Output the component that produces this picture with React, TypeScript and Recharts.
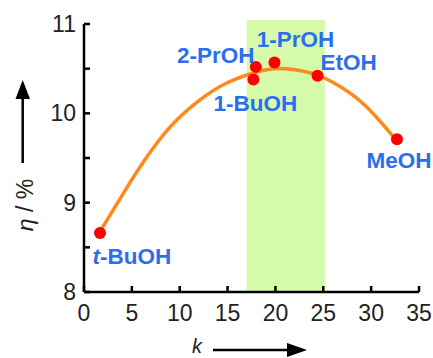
import React from 'react';
import { ComposedChart, Scatter, XAxis, YAxis, ReferenceArea, LabelList } from 'recharts';

// Solvent data points
const solvents = ['t-BuOH', '2-PrOH', '1-BuOH', '1-PrOH', 'EtOH', 'MeOH'];
const kValues = [1.67, 17.95, 17.7, 19.9, 24.4, 32.7];
const etaValues = [8.66, 10.52, 10.38, 10.57, 10.42, 9.71];

// Fitted curve
const curveK = [1.67, 4.11, 5.85, 7.6, 9.69, 12.12, 14.55, 17.34, 19.78, 21.87, 24.31, 26.75, 29.54, 32.32, 32.7];
const curveEta = [8.675, 9.105, 9.4, 9.665, 9.925, 10.15, 10.32, 10.44, 10.5, 10.49, 10.43, 10.3, 10.07, 9.74, 9.71];

// Highlighted band
const bandK = [17.0, 25.15];
const bandEta = [8, 11.045];

// Ticks
const xTicks = [0, 5, 10, 15, 20, 25, 30, 35];
const yTicks = [8, 8.5, 9, 9.5, 10, 10.5, 11];

const points = solvents.map((name, i) => ({ name, k: kValues[i], eta: etaValues[i] }));
const curve = curveK.map((k, i) => ({ k, eta: curveEta[i] }));

// label placement offsets (style, not data)
const labelOffsets: Record<string, [number, number]> = {
  't-BuOH': [32, 31],
  '2-PrOH': [-40, -4],
  '1-BuOH': [2, 32],
  '1-PrOH': [21, -15],
  'EtOH': [31, -6],
  'MeOH': [2, 29],
};

const FONT = '"Liberation Sans", Arial, sans-serif';
const BLUE = '#2b6fec';
const LABEL_SIZE = 22.5;

const PointLabel = (props: any) => {
  const { x, y, width, height, value } = props;
  const cx = x + (width || 0) / 2;
  const cy = y + (height || 0) / 2;
  const off = labelOffsets[value] || [0, 0];
  const tx = cx + off[0];
  const ty = cy + off[1];
  if (value === 't-BuOH') {
    return (
      <text x={tx} y={ty} textAnchor="middle" fontFamily={FONT} fontSize={LABEL_SIZE} fontWeight="bold" fill={BLUE}>
        <tspan fontStyle="italic">t</tspan>
        <tspan>-BuOH</tspan>
      </text>
    );
  }
  return (
    <text x={tx} y={ty} textAnchor="middle" fontFamily={FONT} fontSize={LABEL_SIZE} fontWeight="bold" fill={BLUE}>
      {value}
    </text>
  );
};

const Dot = (props: any) => {
  const { cx, cy } = props;
  return <circle cx={cx} cy={cy} r={6} fill="#ff0000" />;
};

export default function App() {
  return (
    <div style={{ position: 'absolute', left: 0, top: 0, width: 433, height: 358, background: '#fff' }}>
      <ComposedChart
        width={433}
        height={358}
        margin={{ top: 24, right: 14, bottom: 36, left: 44 }}
      >
        <XAxis
          type="number"
          dataKey="k"
          domain={[0, 35]}
          ticks={xTicks}
          interval={0}
          height={30}
          axisLine={{ stroke: '#000', strokeWidth: 2.5 }}
          tickLine={{ stroke: '#000', strokeWidth: 2.5 }}
          tickSize={-6}
          tickMargin={19}
          tick={{ fill: '#222', fontSize: 23, fontFamily: FONT }}
          allowDataOverflow
        />
        <YAxis
          type="number"
          dataKey="eta"
          domain={[8, 11]}
          ticks={yTicks}
          interval={0}
          width={40}
          axisLine={{ stroke: '#000', strokeWidth: 2.5 }}
          tickLine={{ stroke: '#000', strokeWidth: 2.5 }}
          tickSize={-6}
          tickMargin={14}
          tick={{ fill: '#222', fontSize: 23, fontFamily: FONT }}
          tickFormatter={(v: number) => (Number.isInteger(v) ? String(v) : '')}
          allowDataOverflow
        />
        <ReferenceArea
          x1={bandK[0]}
          x2={bandK[1]}
          y1={bandEta[0]}
          y2={bandEta[1]}
          fill="#d5fbaa"
          fillOpacity={1}
          stroke="none"
          ifOverflow="visible"
        />
        <Scatter
          data={curve}
          dataKey="eta"
          line={{ stroke: '#ff8a1c', strokeWidth: 3.5 }}
          lineJointType="natural"
          shape={() => <g />}
          isAnimationActive={false}
        />
        <Scatter data={points} dataKey="eta" shape={Dot} isAnimationActive={false}>
          <LabelList dataKey="name" content={PointLabel} />
        </Scatter>
      </ComposedChart>
      <svg
        width={433}
        height={358}
        style={{ position: 'absolute', left: 0, top: 0, pointerEvents: 'none' }}
      >
        {/* y title arrow */}
        <line x1={22.7} y1={163} x2={22.7} y2={96} stroke="#000" strokeWidth={2.5} />
        <polygon points="22.7,80 15.5,99 30,99" fill="#000" />
        <text
          x={25}
          y={205}
          transform="rotate(-90 25 205)"
          textAnchor="middle"
          dominantBaseline="central"
          fontFamily={FONT}
          fontSize={23}
          fill="#222"
        >
          <tspan fontStyle="italic">η</tspan>
          <tspan> / %</tspan>
        </text>
        {/* x title arrow */}
        <text x={197} y={353} textAnchor="middle" fontFamily={FONT} fontSize={20} fontStyle="italic" fill="#222">
          k
        </text>
        <line x1={213} y1={350} x2={290} y2={350} stroke="#000" strokeWidth={2.5} />
        <polygon points="307,350 287,343 287,357" fill="#000" />
      </svg>
    </div>
  );
}
